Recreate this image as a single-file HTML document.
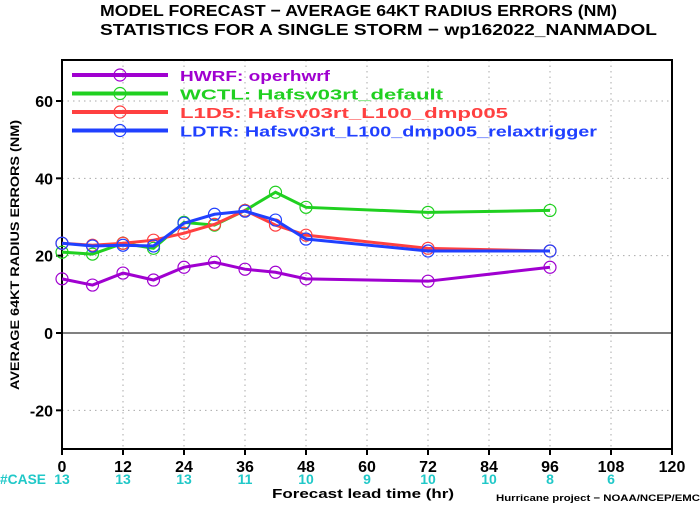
<!DOCTYPE html>
<html><head><meta charset="utf-8"><style>
body{margin:0;background:#fff;}
svg text{font-family:"Liberation Sans",sans-serif;font-weight:bold;}
</style></head><body>
<svg id="chart" width="700" height="506" viewBox="0 0 700 506" xmlns="http://www.w3.org/2000/svg">
<text x="100" y="16" font-size="16" textLength="517" lengthAdjust="spacingAndGlyphs">MODEL FORECAST − AVERAGE 64KT RADIUS ERRORS (NM)</text>
<text x="100" y="35" font-size="16" textLength="557" lengthAdjust="spacingAndGlyphs">STATISTICS FOR A SINGLE STORM − wp162022_NANMADOL</text>
<g id="grid"></g>
<g id="axes"></g>
<g id="series"></g>
<g id="legend"></g>
<text x="-135" y="0" font-size="12" textLength="270" lengthAdjust="spacingAndGlyphs" transform="translate(19,255) rotate(-90)">AVERAGE 64KT RADIUS ERRORS (NM)</text>
<text x="272" y="498" font-size="13" textLength="182" lengthAdjust="spacingAndGlyphs">Forecast lead time (hr)</text>
<text x="496" y="501" font-size="9.5" textLength="204" lengthAdjust="spacingAndGlyphs">Hurricane project − NOAA/NCEP/EMC</text>
<text x="0" y="484" font-size="14" fill="#20c8c8" textLength="46" lengthAdjust="spacingAndGlyphs">#CASE</text>
</svg>
<script>
const xTicks=[0,12,24,36,48,60,72,84,96,108,120];
const yTicks=[-20,0,20,40,60];
const caseHours=[0,12,24,36,48,60,72,84,96,108];
const caseCounts=[13,13,13,11,10,9,10,10,8,6];
const hours=[0,6,12,18,24,30,36,42,48,72,96];
const hwrf=[14,12.4,15.5,13.7,17,18.3,16.5,15.7,14,13.4,17];
const wctl=[20.9,20.4,23.2,21.9,28.6,27.9,31.7,36.4,32.5,31.2,31.7];
const l1d5=[23.2,22.7,23.2,24,25.8,28.1,31.7,27.9,25.3,21.9,21.2];
const ldtr=[23.2,22.5,22.7,22.5,28.4,30.7,31.5,29.2,24.3,21.2,21.2];
const seriesNames=["HWRF: operhwrf","WCTL: Hafsv03rt_default","L1D5: Hafsv03rt_L100_dmp005","LDTR: Hafsv03rt_L100_dmp005_relaxtrigger"];
const seriesColors=["#a000d0","#20d020","#ff4040","#2040ff"];
const legendLens=[150,263,328,417];
const NS="http://www.w3.org/2000/svg";
const L=62,R=672,T=60,B=449,ymin=-30,ymax=70.6;
function X(h){return L+(h/120)*(R-L);}
function Y(v){return B-(v-ymin)/(ymax-ymin)*(B-T);}
function mk(tag,attrs,parent){const e=document.createElementNS(NS,tag);for(const k in attrs)e.setAttribute(k,attrs[k]);parent.appendChild(e);return e;}
const grid=document.getElementById('grid'),axes=document.getElementById('axes'),ser=document.getElementById('series'),leg=document.getElementById('legend');
xTicks.forEach(t=>{if(t>0&&t<120){const g=mk('line',{x1:X(t),x2:X(t),y1:T,y2:B,stroke:'#aaa','stroke-dasharray':'1.5,4'},grid);

}
const tl=mk('line',{x1:X(t),x2:X(t),y1:B,y2:B+6,stroke:'#000','stroke-width':2},axes);


const tx=mk('text',{x:X(t),y:B+23,'font-size':16,'text-anchor':'middle'},axes);tx.textContent=t;

});
yTicks.forEach(t=>{const g=mk('line',{x1:L,x2:R,y1:Y(t),y2:Y(t),stroke:t===0?'#000':'#aaa','stroke-width':1,'stroke-dasharray':t===0?'':'1.5,4'},grid);


const tl=mk('line',{x1:L-6,x2:L,y1:Y(t),y2:Y(t),stroke:'#000','stroke-width':2},axes);


const tx=mk('text',{x:L-9,y:Y(t)+6,'font-size':16,'text-anchor':'end'},axes);tx.textContent=t;

});
const frame=mk('rect',{x:L,y:T,width:R-L,height:B-T,fill:'none',stroke:'#000','stroke-width':2},axes);


caseHours.forEach((h,i)=>{const t=mk('text',{x:X(h),y:484,'font-size':14,'text-anchor':'middle',fill:'#20c8c8'},axes);t.textContent=caseCounts[i];

});
[hwrf,wctl,l1d5,ldtr].forEach((d,si)=>{const c=seriesColors[si];
const p=mk('polyline',{points:hours.map((h,i)=>X(h)+','+Y(d[i])).join(' '),fill:'none',stroke:c,'stroke-width':3},ser);


hours.forEach((h,i)=>{const m=mk('circle',{cx:X(h),cy:Y(d[i]),r:6,fill:'none',stroke:c,'stroke-width':1.2},ser);

});
const ly=75+si*18.5;
const ll=mk('line',{x1:72,x2:168,y1:ly,y2:ly,stroke:c,'stroke-width':4},leg);


const lc=mk('circle',{cx:120,cy:ly,r:6,fill:'none',stroke:c,'stroke-width':1.2},leg);


const lt=mk('text',{x:180,y:ly+6,'font-size':15,fill:c,textLength:legendLens[si],lengthAdjust:'spacingAndGlyphs'},leg);lt.textContent=seriesNames[si];

});
</script>
</body></html>
